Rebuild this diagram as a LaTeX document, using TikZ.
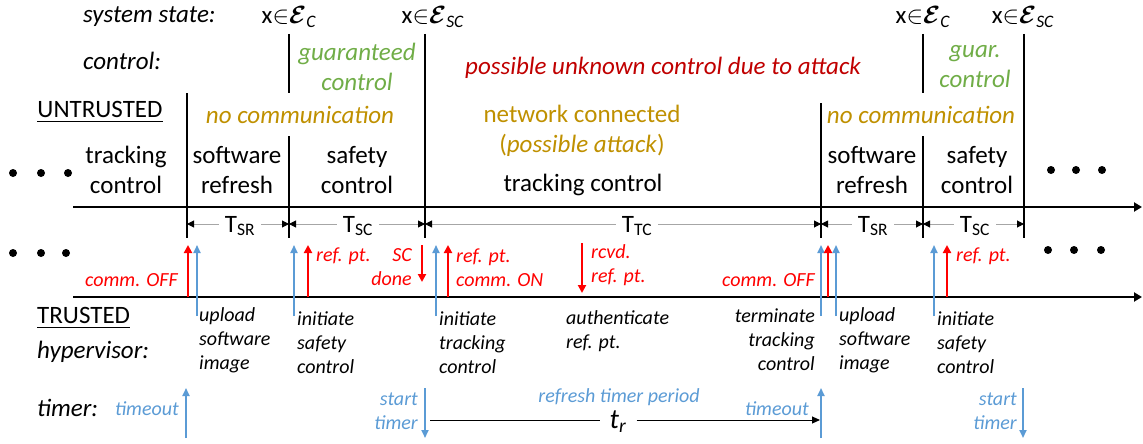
\documentclass[tikz,border=0pt]{standalone}
\usepackage{amsmath,amssymb}
\usepackage{fontspec}
\setmainfont{Carlito}
\usepackage{tikz}
\usetikzlibrary{arrows.meta}

\definecolor{attackred}{RGB}{192,0,0}
\definecolor{evred}{RGB}{255,0,0}
\definecolor{commgold}{RGB}{191,144,0}
\definecolor{guargreen}{RGB}{112,173,71}
\definecolor{hvblue}{RGB}{91,155,213}

\newcommand{\bigtxt}{\fontsize{25}{30}\selectfont}
\newcommand{\smalltxt}{\fontsize{20}{24}\selectfont\itshape}
\newcommand{\inset}[1]{x$\mathord{\in}\boldsymbol{\mathcal{E}}$\textsubscript{\textit{#1}}}

\begin{document}
\begin{tikzpicture}[x=1pt,y=-1pt,
      big/.style={inner sep=0pt,align=center,font=\bigtxt},
      note/.style={inner sep=0pt,font=\smalltxt},
      bnd/.style={line width=1.2pt},
      tline/.style={line width=2pt,-{Triangle[length=8pt,width=9pt]}},
      dimline/.style={gray!70,line width=1pt,{Triangle[black,length=7pt,width=7pt]}-{Triangle[black,length=7pt,width=7pt]}},
      dimlbl/.style={fill=white,inner xsep=6pt,inner ysep=0pt,font=\bigtxt},
      redup/.style={evred,line width=2.6pt,-{Triangle[length=8pt,width=8pt]}},
      blueup/.style={hvblue,line width=1.8pt,-{Triangle[length=8pt,width=7pt]}}]
      \useasboundingbox (0,0) rectangle (1143,444);
      \node[big,font=\bigtxt\itshape,anchor=west] (sysstate) at (83,17) {system state:};
      \node[big] (xc1) at (289,17) {\inset{C}};
      \node[big] (xsc1) at (433,17) {\inset{SC}};
      \node[big] (xc2) at (923,17) {\inset{C}};
      \node[big] (xsc2) at (1023,17) {\inset{SC}};
      \node[big,font=\bigtxt\itshape,anchor=west] (ctrl) at (83,61) {control:};
      \node[big,font=\bigtxt\itshape,guargreen] (guar1) at (357,67) {guaranteed\\control};
      \node[big,font=\bigtxt\itshape,attackred] (attack) at (663,68) {possible unknown control due to attack};
      \node[big,font=\bigtxt\itshape,guargreen] (guar2) at (975,67) {guar.\\control};
      \node[big] (untrusted) at (100,112) {\underline{UNTRUSTED}};
      \node[big,font=\bigtxt\itshape,commgold] (nocomm1) at (300,115) {no communication};
      \node[big,commgold] (netconn) at (582,131) {network connected\\(\textit{possible attack})};
      \node[big,font=\bigtxt\itshape,commgold] (nocomm2) at (921,115) {no communication};
      \node[big] (track1) at (126,170) {tracking\\control};
      \node[big] (swref1) at (237,170) {software\\refresh};
      \node[big] (safe1) at (357,170) {safety\\control};
      \node[big] (track2) at (583,185) {tracking control};
      \node[big] (swref2) at (872,170) {software\\refresh};
      \node[big] (safe2) at (977,170) {safety\\control};
      \draw[bnd] (187,93) -- (187,238);
      \draw[bnd] (289,34) -- (289,93) (289,136) -- (289,238);
      \draw[bnd] (425,34) -- (425,238);
      \draw[bnd] (821,103) -- (821,238);
      \draw[bnd] (923,34) -- (923,93) (923,136) -- (923,238);
      \draw[bnd] (1024,34) -- (1024,238);
      \draw[tline] (73,207) -- (1142,207);
      \draw[tline] (73,297) -- (1142,297);
      \draw[dimline] (187,224) -- (289,224);
      \draw[dimline] (289,224) -- (425,224);
      \draw[dimline] (425,224) -- (821,224);
      \draw[dimline] (821,224) -- (923,224);
      \draw[dimline] (923,224) -- (1024,224);
      \node[dimlbl] (tsr1) at (240,226) {T\textsubscript{SR}};
      \node[dimlbl] (tsc1) at (358,226) {T\textsubscript{SC}};
      \node[dimlbl] (ttc) at (637,226) {T\textsubscript{TC}};
      \node[dimlbl] (tsr2) at (873,226) {T\textsubscript{SR}};
      \node[dimlbl] (tsc2) at (975,226) {T\textsubscript{SC}};
      \foreach \x/\y in {13/173,41/173,68/173,13/253,41/253,66/253,1051/170,1076/170,1102/170,1048/250,1074/250,1101/250}
        \fill (\x,\y) circle (4);
      \draw[redup] (188,297) -- (188,245);
      \draw[blueup] (197,316) -- (197,245);
      \draw[blueup] (294,316) -- (294,245);
      \draw[redup] (308,297) -- (308,245);
      \draw[redup] (422,245) -- (422,282);
      \draw[blueup] (436,316) -- (436,245);
      \draw[redup] (448,297) -- (448,245);
      \draw[redup] (582,243) -- (582,293);
      \draw[blueup] (821,316) -- (821,245);
      \draw[redup] (828,297) -- (828,245);
      \draw[blueup] (836,316) -- (836,245);
      \draw[blueup] (934,316) -- (934,245);
      \draw[redup] (947,297) -- (947,245);
      \node[note,evred,anchor=east] (commoff1) at (178,280) {comm. OFF};
      \node[note,evred,anchor=west] (refpt1) at (316,256) {ref. pt.};
      \node[note,evred,anchor=east,align=right] (scdone) at (412,267) {SC\\done};
      \node[note,evred,anchor=west,align=left] (refon) at (456,268) {ref. pt.\\comm. ON};
      \node[note,evred,anchor=west,align=left] (rcvd) at (591,265) {rcvd.\\ref. pt.};
      \node[note,evred,anchor=east] (commoff2) at (815,280) {comm. OFF};
      \node[note,evred,anchor=west] (refpt2) at (956,256) {ref. pt.};
      \node[big,anchor=west] (trusted) at (37,318) {\underline{TRUSTED}};
      \node[big,font=\bigtxt\itshape,anchor=west] (hyp) at (37,352) {hypervisor:};
      \node[note,anchor=west,align=left] (upload1) at (199,340) {upload\\software\\image};
      \node[note,anchor=west,align=left] (initsc1) at (297,343) {initiate\\safety\\control};
      \node[note,anchor=west,align=left] (inittc) at (439,343) {initiate\\tracking\\control};
      \node[note,anchor=west,align=left] (auth) at (566,331) {authenticate\\ref. pt.};
      \node[note,anchor=east,align=right] (term) at (815,340) {terminate\\tracking\\control};
      \node[note,anchor=west,align=left] (upload2) at (839,340) {upload\\software\\image};
      \node[note,anchor=west,align=left] (initsc2) at (937,343) {initiate\\safety\\control};
      \node[big,font=\bigtxt\itshape,anchor=west] (timer) at (37,408) {timer:};
      \node[note,hvblue,anchor=east] (timeout1) at (179,409) {timeout};
      \node[note,hvblue,anchor=east,align=right] (start1) at (418,411) {start\\timer};
      \node[note,hvblue] (refresh) at (619,397) {refresh timer period};
      \node[note,hvblue,anchor=east] (timeout2) at (809,409) {timeout};
      \node[note,hvblue,anchor=east,align=right] (start2) at (1017,411) {start\\timer};
      \node[inner xsep=10pt,inner ysep=0pt,font=\fontsize{28}{30}\selectfont\itshape] (tr) at (618,422) {t\textsubscript{r}};
      \draw[line width=1pt] (430,420) -- (tr.west |- 0,420);
      \draw[line width=1pt,-{Triangle[length=8pt,width=7pt]}] (tr.east |- 0,420) -- (820,420);
      \draw[blueup] (186,438) -- (186,388);
      \draw[blueup] (425,388) -- (425,438);
      \draw[blueup] (821,438) -- (821,388);
      \draw[blueup] (1023,388) -- (1023,438);
    \end{tikzpicture}
\end{document}
